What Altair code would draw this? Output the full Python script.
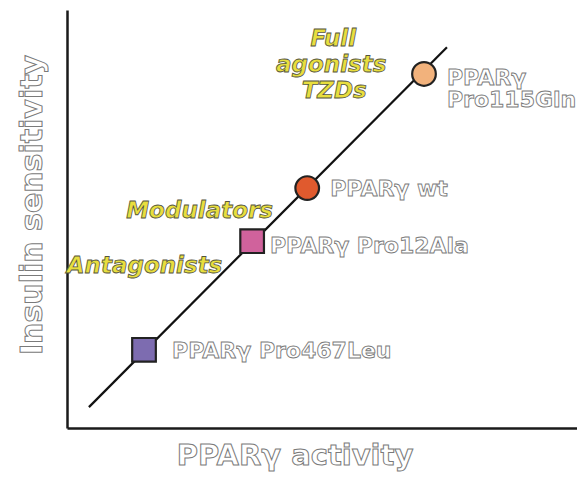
import altair as alt
import pandas as pd

# Variants (PPARγ activity vs insulin sensitivity, arbitrary units 0-10)
variants = ["PPARγ Pro467Leu", "PPARγ Pro12Ala", "PPARγ wt", "PPARγ Pro115Gln"]
activity = [1.51, 3.63, 4.71, 7.0]
sensitivity = [1.87, 4.47, 5.74, 8.47]
shapes = ["square", "square", "circle", "circle"]
colors = ["#7d6cb0", "#d0629c", "#e05a2e", "#f2b27c"]

# Point labels
label_text = ["PPARγ Pro467Leu", "PPARγ Pro12Ala", "PPARγ wt", "PPARγ", "Pro115Gln"]
label_x = [2.06, 3.98, 5.16, 7.45, 7.45]
label_y = [1.84, 4.35, 5.72, 8.37, 7.84]

# Ligand class annotations
class_text = ["Full", "agonists", "TZDs", "Modulators", "Antagonists"]
class_x = [5.22, 5.18, 5.24, 2.6, 1.52]
class_y = [9.31, 8.68, 8.06, 5.19, 3.88]

# Trend line
line_x = [0.43, 7.45]
line_y = [0.50, 9.11]

FONT = "DejaVu Sans"

xs = alt.Scale(domain=[0, 10], nice=False, zero=False)
ys = alt.Scale(domain=[0, 10], nice=False, zero=False)
xax = alt.Axis(domain=True, domainColor="#1a1a1a", domainWidth=2.5, ticks=False,
               labels=False, grid=False, title=None)
yax = alt.Axis(domain=True, domainColor="#1a1a1a", domainWidth=2.5, ticks=False,
               labels=False, grid=False, title=None)

line_df = pd.DataFrame({"x": line_x, "y": line_y})
pts_df = pd.DataFrame({"v": variants, "x": activity, "y": sensitivity,
                       "shape": shapes, "color": colors})
lab_df = pd.DataFrame({"t": label_text, "x": label_x, "y": label_y})
cls_df = pd.DataFrame({"t": class_text, "x": class_x, "y": class_y})

line = alt.Chart(line_df).mark_line(color="#111", strokeWidth=2.2).encode(
    x=alt.X("x:Q", scale=xs, axis=xax),
    y=alt.Y("y:Q", scale=ys, axis=yax),
)

points = alt.Chart(pts_df).mark_point(filled=True, opacity=1, size=560,
                                      stroke="#222", strokeWidth=2.2).encode(
    x=alt.X("x:Q", scale=xs),
    y=alt.Y("y:Q", scale=ys),
    shape=alt.Shape("shape:N", scale=None),
    fill=alt.Fill("color:N", scale=None),
)

labels = alt.Chart(lab_df).mark_text(
    align="left", baseline="middle", font=FONT, fontWeight="bold", fontSize=22,
    fill="white", stroke="#7a7a7a", strokeWidth=0.9,
).encode(x=alt.X("x:Q", scale=xs), y=alt.Y("y:Q", scale=ys), text="t:N")

classes = alt.Chart(cls_df).mark_text(
    align="center", baseline="middle", font=FONT, fontWeight="bold",
    fontStyle="italic", fontSize=23, fill="#e8de3e", stroke="#55553f",
    strokeWidth=0.8,
).encode(x=alt.X("x:Q", scale=xs), y=alt.Y("y:Q", scale=ys), text="t:N")

xtitle = alt.Chart(pd.DataFrame({"t": ["PPARγ activity"]})).mark_text(
    align="center", baseline="alphabetic", font=FONT, fontWeight="bold", fontSize=29,
    fill="white", stroke="#7a7a7a", strokeWidth=1.0,
).encode(x=alt.value(228), y=alt.value(455), text="t:N")

ytitle = alt.Chart(pd.DataFrame({"t": ["Insulin sensitivity"]})).mark_text(
    align="center", baseline="middle", font=FONT, fontWeight="bold", fontSize=30,
    fill="white", stroke="#7a7a7a", strokeWidth=1.0, angle=270,
).encode(x=alt.value(-34), y=alt.value(195), text="t:N")

chart = alt.layer(line, points, labels, classes, xtitle, ytitle).properties(
    width=510, height=418,
    autosize=alt.AutoSizeParams(type="none"),
    padding={"left": 59, "top": 2, "right": 0, "bottom": 45},
    background="white",
).configure_view(stroke=None)

chart.save("out.html", embed_options={"renderer": "svg", "actions": False})
